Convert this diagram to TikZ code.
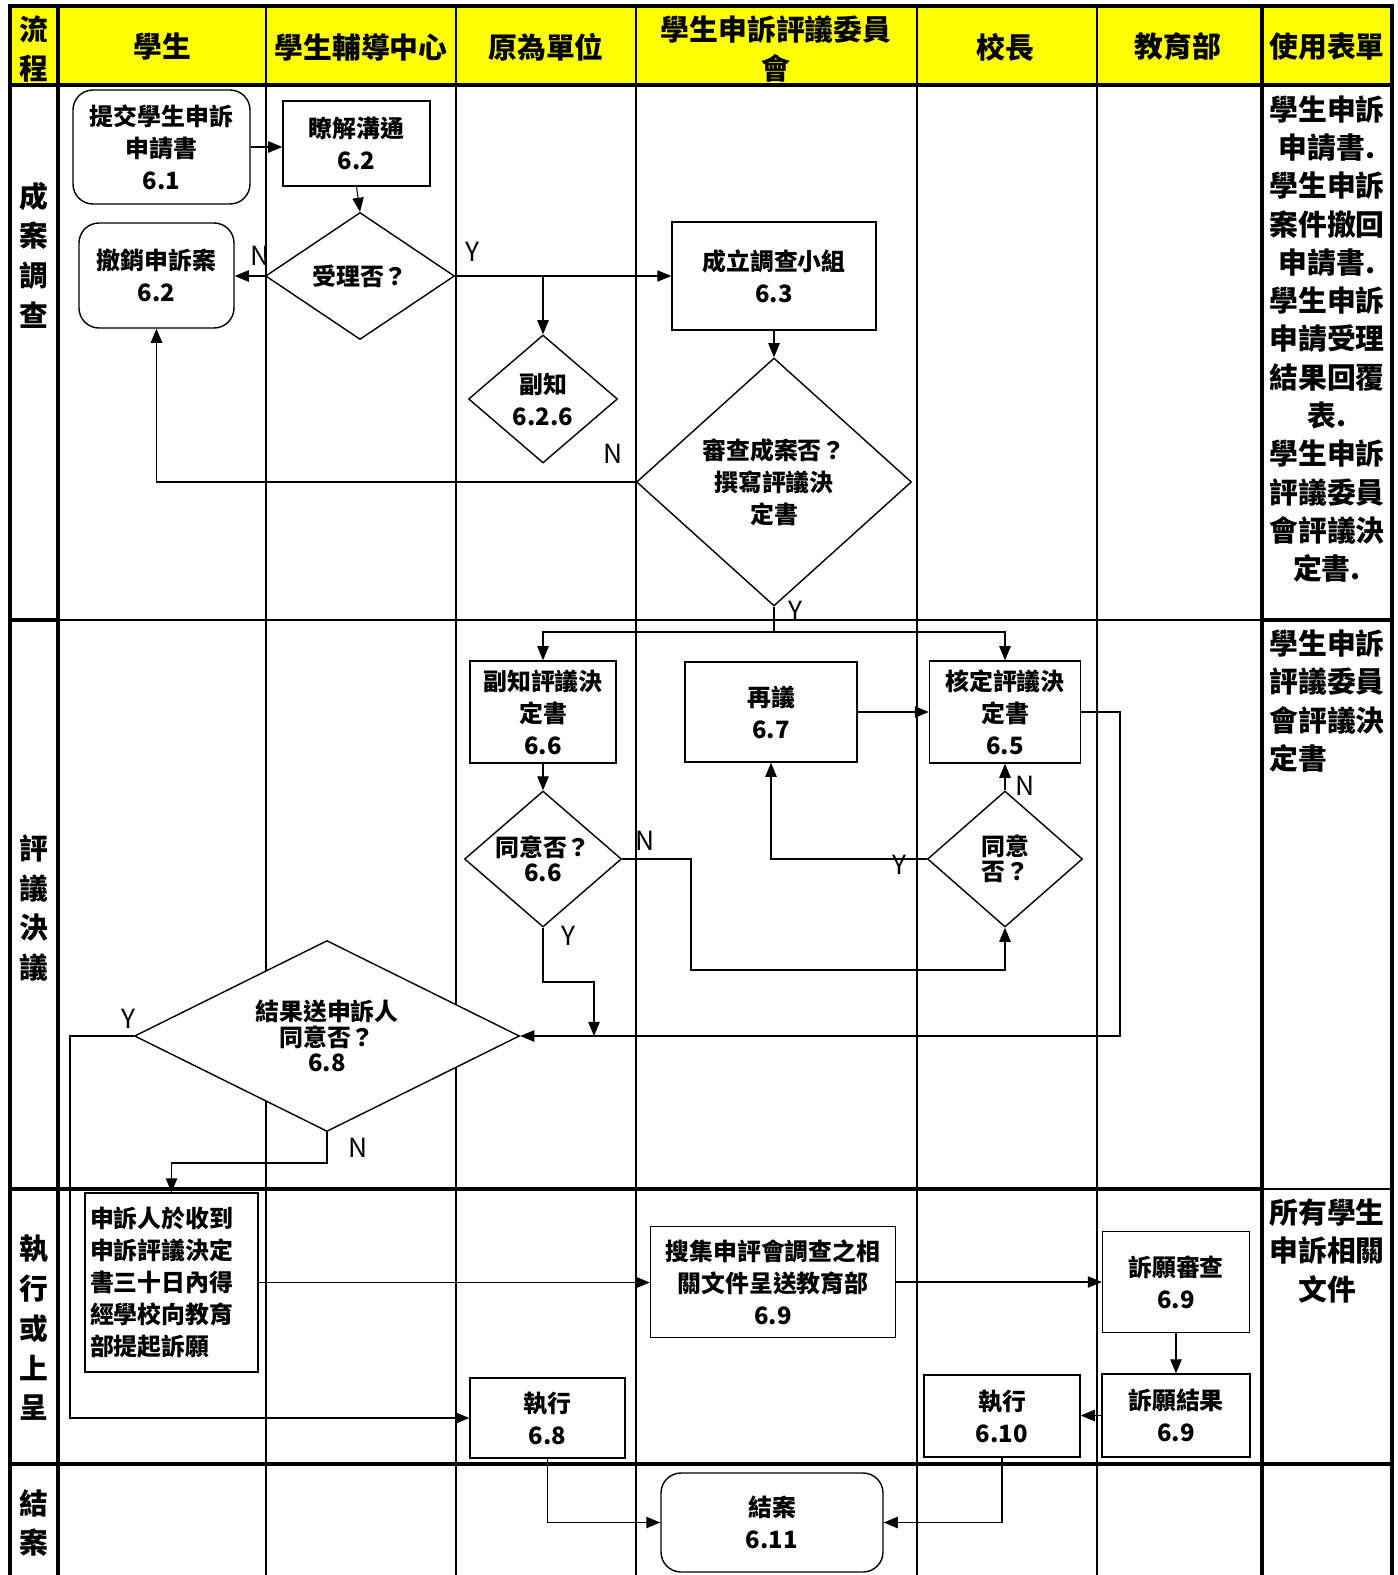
\documentclass[tikz,border=0pt]{standalone}
\usepackage{fontspec}
\setmainfont{Noto Sans CJK TC}
\usetikzlibrary{shapes.geometric,arrows.meta}
\definecolor{hdrfill}{HTML}{FFFF00}
\newcommand\boxfont{\fontsize{13.6}{18.2}\selectfont\bfseries}
\newcommand\tightfont{\fontsize{13.6}{14.4}\selectfont\bfseries}
\newcommand\hdrfont{\fontsize{16.4}{21.8}\selectfont\bfseries}
\newcommand\stgfont{\fontsize{16.4}{22.6}\selectfont\bfseries}
\newcommand\lblfont{\fontsize{15}{16}\selectfont}
\tikzset{
  wh/.style 2 args={minimum width=#1*0.02cm,minimum height=#2*0.02cm},
  proc/.style={draw,fill=white,line width=0.8pt,inner sep=0pt,align=center,font=\boxfont},
  term/.style={proc,rounded corners=0.4cm},
  decide/.style={diamond,draw,fill=white,line width=0.8pt,inner sep=-1pt,align=center,font=\boxfont},
  tight/.style={font=\tightfont},
  arr/.style={line width=0.6pt,-{Triangle[length=8pt,width=6.5pt]}},
  yn/.style={font=\lblfont,inner sep=0pt},
  hdr/.style={font=\hdrfont,align=center,inner sep=0pt},
  stg/.style={font=\stgfont,align=center,inner sep=0pt},
  lane/.style={line width=0.6pt},
  frame/.style={line width=2.3pt},
}

\begin{document}
\begin{tikzpicture}[x=0.02cm,y=-0.02cm]
\useasboundingbox (0,0) rectangle (1397,1575);

% swimlane grid
\fill[hdrfill] (10,6) rectangle (1392,85);
\foreach \x in {266,456,636,917,1097} {
  \draw[line width=1.2pt] (\x,6) -- (\x,85);
  \draw[lane] (\x,85) -- (\x,1575);
}
\draw[lane] (58,620) -- (1262,620);
\draw[frame] (10,620) -- (58,620) (1262,620) -- (1392,620);
\draw[frame] (10,1189) -- (1262,1189);
\draw[lane] (1262,1189) -- (1392,1189);
\draw[frame] (10,1464) -- (1392,1464);
\draw[frame] (10,85) -- (1392,85);
\draw[frame] (10,1575) -- (10,6) -- (1392,6) -- (1392,1575);
\draw[frame] (58,6) -- (58,1575) (1262,6) -- (1262,1575);

% header
\node[hdr] (hflow) at (34,49) {流\\程};
\node[hdr] (hstu) at (162,47) {學生};
\node[hdr] (hcnt) at (361,47) {學生輔導中心};
\node[hdr] (horg) at (546,47) {原為單位};
\node[hdr] (hcom) at (776,49) {學生申訴評議委員\\會};
\node[hdr] (hpri) at (1005,47) {校長};
\node[hdr] (hmoe) at (1178,47) {教育部};
\node[hdr] (hform) at (1327,47) {使用表單};

% stages
\node[stg] (stg1) at (34,255) {成\\案\\調\\查};
\node[stg] (stg2) at (34,908) {評\\議\\決\\議};
\node[stg] (stg3) at (34,1328) {執\\行\\或\\上\\呈};
\node[stg] (stg4) at (34,1523) {結\\案};

% forms
\node[hdr] (form1) at (1327,339) {學生申訴\\申請書.\\學生申訴\\案件撤回\\申請書.\\學生申訴\\申請受理\\結果回覆\\表.\\學生申訴\\評議委員\\會評議決\\定書.};
\node[hdr,align=left] (form2) at (1327,701) {學生申訴\\評議委員\\會評議決\\定書};
\node[hdr] (form3) at (1327,1251) {所有學生\\申訴相關\\文件};

% stage 1
\node[term,wh={177}{114}] (apply) at (161.5,147) {提交學生申訴\\申請書\\6.1};
\node[proc,wh={147}{85}] (talk) at (356.5,143.5) {瞭解溝通\\6.2};
\node[decide,aspect=1.49,wh={189}{127}] (accept) at (360,276) {受理否？};
\node[term,wh={155}{105}] (revoke) at (156.5,275.5) {撤銷申訴案\\6.2};
\node[proc,wh={204}{108}] (team) at (774,276) {成立調查小組\\6.3};
\node[decide,aspect=1.16,wh={149}{128}] (cc1) at (543,399) {副知\\6.2.6};
\node[decide,aspect=1.11,wh={275}{248}] (review) at (774,482) {審查成案否？\\撰寫評議決\\定書};

% stage 2
\node[proc,wh={146}{102}] (cc2) at (543,712) {副知評議決\\定書\\6.6};
\node[proc,wh={172}{100}] (redo) at (771,712) {再議\\6.7};
\node[proc,wh={151}{102}] (ratify) at (1005,712) {核定評議決\\定書\\6.5};
\node[decide,tight,aspect=1.15,wh={157}{136}] (agree1) at (543,859) {同意否？\\6.6};
\node[decide,tight,aspect=1.14,wh={155}{136}] (agree2) at (1005,859) {同意\\否？};
\node[decide,tight,aspect=2.02,wh={385}{191}] (notify) at (327,1036) {結果送申訴人\\同意否？\\6.8};

% stage 3 and 4
\node[proc,wh={173}{179},text width=3.26cm,align=left] (appeal) at (171.5,1282.5) {申訴人於收到\\申訴評議決定\\書三十日內得\\經學校向教育\\部提起訴願};
\node[proc,wh={245}{111}] (collect) at (773,1282) {搜集申評會調查之相\\關文件呈送教育部\\6.9};
\node[proc,wh={147}{101}] (petrev) at (1176,1282) {訴願審查\\6.9};
\node[proc,wh={148}{83}] (petres) at (1176,1415.5) {訴願結果\\6.9};
\node[proc,wh={156}{82}] (exec2) at (1002,1416) {執行\\6.10};
\node[proc,wh={155}{80}] (exec1) at (547.5,1418) {執行\\6.8};
\node[term,wh={222}{99}] (close) at (772,1522.5) {結案\\6.11};

% bends
\coordinate (split) at (774,632);
\coordinate (nbend) at (691,970);
\coordinate (ybend) at (594,982);
\coordinate (yjoin) at (594,1036);
\coordinate (rbend) at (1120,1036);
\coordinate (lbend) at (70,1036);
\coordinate (dbend) at (327,1163);

% connectors
\draw[arr] (apply.east) -- (apply.east -| talk.west);
\draw[arr] (talk.south) -- (accept.north);
\draw[arr] (accept.west) -- (accept.west -| revoke.east);
\draw[arr] (accept.east) -- (accept.east -| team.west);
\draw[arr] (accept.east -| cc1.north) -- (cc1.north);
\draw[arr] (team.south) -- (review.north);
\draw[arr] (review.west) -| (revoke.south);
\draw[lane] (review.south) -- (split);
\draw[arr] (split) -| (cc2.north);
\draw[arr] (split) -| (ratify.north);
\draw[arr] (cc2.south) -- (agree1.north);
\draw[arr] (agree1.east) -| (nbend) -| (agree2.south);
\draw[arr] (agree1.south) |- (ybend) -- (yjoin);
\draw[arr] (agree2.west) -| (redo.south);
\draw[arr] (agree2.north) -- (ratify.south);
\draw[arr] (redo.east) -- (redo.east -| ratify.west);
\draw[arr] (ratify.east) -| (rbend) -- (notify.east);
\draw[arr] (notify.west) -- (lbend) |- (exec1.west);
\draw[arr] (notify.south) -- (dbend) -| (appeal.north);
\draw[arr] (appeal.east) -- (appeal.east -| collect.west);
\draw[arr] (collect.east) -- (collect.east -| petrev.west);
\draw[arr] (petrev.south) -- (petres.north);
\draw[arr] (petres.west) -- (petres.west -| exec2.east);
\draw[arr] (exec1.south) |- (close.west);
\draw[arr] (exec2.south) |- (close.east);

% yes / no labels
\node[yn] (n1) at (260,256) {N};
\node[yn] (y1) at (472,252) {Y};
\node[yn] (n2) at (613,454) {N};
\node[yn] (y2) at (795,611) {Y};
\node[yn] (n3) at (645,841) {N};
\node[yn] (y3) at (568,936) {Y};
\node[yn] (y4) at (899,865) {Y};
\node[yn] (n4) at (1025,786) {N};
\node[yn] (y5) at (128,1019) {Y};
\node[yn] (n5) at (358,1148) {N};
\end{tikzpicture}
\end{document}
